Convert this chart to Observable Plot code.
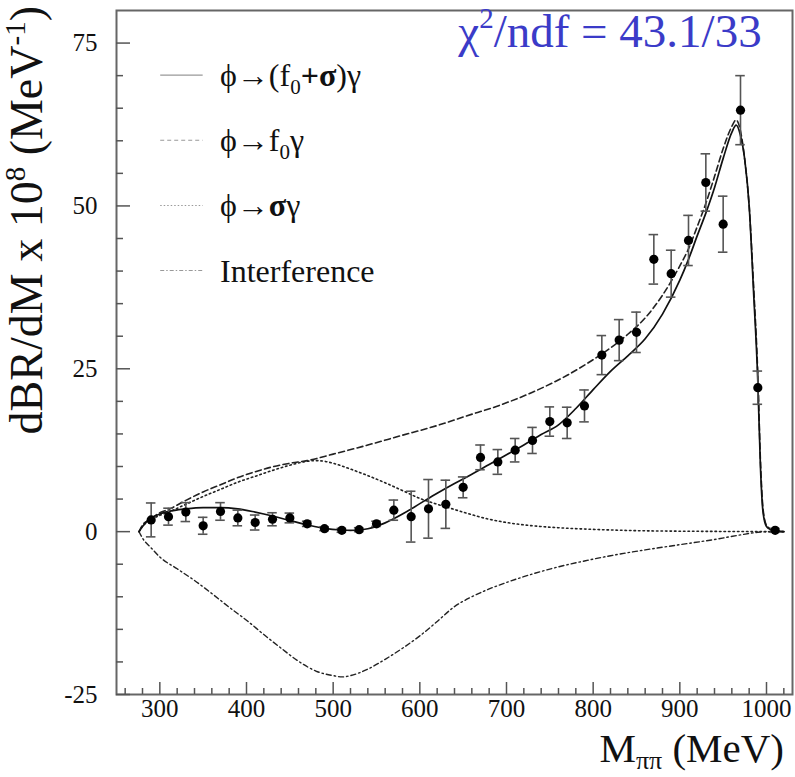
<!DOCTYPE html>
<html><head><meta charset="utf-8">
<script src="https://cdn.jsdelivr.net/npm/d3@7"></script>
<script src="https://cdn.jsdelivr.net/npm/@observablehq/plot@0.6"></script>
<style>body{margin:0;background:#fff;} svg{display:block}</style>
</head><body><div id="chart"></div>
<script>
// ---- measured spectrum (MeV, dBR/dM x 1e8) ----
const massBins = [290,310,330,350,370,390,410,430,450,470,490,510,530,550,570,590,610,630,650,670,690,710,730,750,770,790,810,830,850,870,890,910,930,950,970,990,1010];
const dBRdM    = [1.8,2.3,3.0,0.9,3.1,2.1,1.4,1.9,2.1,1.2,0.45,0.2,0.3,1.2,3.3,2.3,3.5,4.2,6.8,11.4,10.7,12.5,14.0,16.9,16.7,19.3,27.1,29.4,30.6,41.8,39.6,44.7,53.6,47.2,64.7,22.1,0.2];
const dBRdMErr = [2.6,1.3,1.45,1.3,1.35,1.2,1.15,1.0,0.75,0.4,0.3,0.3,0.3,0.4,1.55,3.9,4.5,3.7,1.6,1.9,1.9,1.8,2.0,2.25,2.4,2.45,3.0,3.15,3.1,3.8,3.6,3.85,4.4,4.3,5.3,2.55,0.3];

// ---- fit curves ----
const totalMass = [276,280,290,300,310,330,350,370,390,410,430,450,470,490,510,520,530,540,560,580,600,620,640,660,680,700,720,740,760,780,800,820,840,860,880,900,910,920,930,940,950,960,965,970,975,980,985,990,993,996,1000,1005,1010,1020];
const totalFit  = [0,0.8,2.1,2.7,3.1,3.5,3.7,3.7,3.5,3.0,2.4,1.7,1.05,0.5,0.25,0.2,0.25,0.45,1.35,2.7,4.3,5.9,7.4,8.8,10.3,11.8,13.3,14.9,16.4,18.9,21.8,24.6,27.0,29.6,33.4,38.6,41.8,45.4,48.9,52.8,57.3,61.3,62.4,60.8,57,50,37,23,10,3,0.8,0.3,0.1,0];

const f0Mass = [276,280,290,300,310,330,350,370,390,410,430,450,470,500,540,580,610,630,650,690,730,770,800,820,840,860,880,900,910,920,930,940,950,960,965,970,975,980,985,990,993,996,1000,1010,1020];
const f0Fit  = [0,1.0,2.0,2.9,3.4,4.8,6.1,7.2,8.3,9.2,9.95,10.5,10.9,11.9,13.3,14.8,15.9,16.7,17.6,19.3,21.4,24.0,26.4,28.2,30.3,32.8,36.3,40.8,43.4,46.8,50.4,54.5,58.8,62.2,63.2,61.5,57,50,38,24,11,3.5,1,0.1,0];

const sigmaMass = [276,280,290,300,310,330,350,370,390,410,430,450,470,480,490,500,520,540,560,580,600,620,640,660,680,700,730,760,800,850,900,950,1000,1020];
const sigmaFit  = [0,0.8,1.8,2.5,3.0,4.2,5.4,6.5,7.6,8.5,9.4,10.2,10.8,10.9,10.8,10.5,9.6,8.6,7.5,6.3,5.1,4.2,3.4,2.6,1.9,1.4,0.9,0.6,0.35,0.15,0.07,0.03,0.01,0];

const interfMass = [276,280,290,300,320,340,360,380,400,420,440,460,480,500,510,520,540,560,580,600,620,640,660,680,700,730,760,790,820,860,900,940,970,990,1010,1020];
const interfFit  = [0,-1.0,-2.5,-3.9,-5.7,-7.5,-9.5,-11.6,-13.6,-15.8,-17.9,-19.9,-21.4,-22.1,-22.3,-22.1,-21.1,-19.6,-17.9,-16.0,-13.8,-11.5,-10.0,-8.8,-7.8,-6.5,-5.4,-4.5,-3.7,-2.8,-2.0,-1.2,-0.5,-0.1,0,0];

// ---- ticks ----
const xMajorTicks = [300,400,500,600,700,800,900,1000];
const xMinorTicks = d3.range(260, 1030, 20).filter(v => v % 100 !== 0);
const yMajorTicks = [-25,0,25,50,75];
const yMinorTicks = d3.range(-20, 80, 5).filter(v => v % 25 !== 0);

const pts = massBins.map((m, i) => ({m, v: dBRdM[i], e: dBRdMErr[i]}));
const curve = (ms, vs) => ms.map((m, i) => ({m, v: vs[i]}));

const W = 795, H = 777, mL = 116, mR = 3, mT = 10, mB = 83;
const frameW = W - mL - mR, frameH = H - mT - mB;
const ink = "#111";
const serif = "'Liberation Serif', 'Times New Roman', serif";
const axisOpts = {label: null, stroke: "#555", strokeWidth: 1.5, fontFamily: serif, tickFormat: d => String(d)};
const chart = Plot.plot({
  width: W, height: H,
  marginLeft: mL, marginRight: mR, marginTop: mT, marginBottom: mB,
  x: {domain: [250, 1030], axis: null},
  y: {domain: [-25, 80], axis: null},
  style: {fontFamily: serif, fontSize: "25px", color: ink, background: "white", overflow: "visible"},
  marks: [
    Plot.line(curve(interfMass, interfFit), {x: "m", y: "v", stroke: "#222", strokeWidth: 1.4, strokeDasharray: "5,3,1.5,3", curve: "monotone-x"}),
    Plot.line(curve(sigmaMass, sigmaFit), {x: "m", y: "v", stroke: "#222", strokeWidth: 1.6, strokeDasharray: "1.5,3", curve: "monotone-x"}),
    Plot.line(curve(f0Mass, f0Fit), {x: "m", y: "v", stroke: "#222", strokeWidth: 1.6, strokeDasharray: "6,3.5", curve: "monotone-x"}),
    Plot.line(curve(totalMass, totalFit), {x: "m", y: "v", stroke: "#111", strokeWidth: 1.7, curve: "monotone-x"}),
    Plot.ruleX(pts, {x: "m", y1: d => d.v - d.e, y2: d => d.v + d.e, stroke: "#555", strokeWidth: 1.6}),
    Plot.ruleY(pts, {y: d => d.v + d.e, x1: d => d.m - 5.5, x2: d => d.m + 5.5, stroke: "#555", strokeWidth: 1.6}),
    Plot.ruleY(pts, {y: d => d.v - d.e, x1: d => d.m - 5.5, x2: d => d.m + 5.5, stroke: "#555", strokeWidth: 1.6}),
    Plot.dot(pts, {x: "m", y: "v", r: 4.6, fill: "#000"}),
    Plot.frame({stroke: "#666", strokeWidth: 2}),
    // minor ticks: short inward rules from the bottom and left edges
    Plot.ruleX(xMinorTicks, {x: d => d, insetTop: frameH - 6, stroke: "#555", strokeWidth: 1.5}),
    Plot.ruleY(yMinorTicks, {y: d => d, insetRight: frameW - 7, stroke: "#555", strokeWidth: 1.5}),
    Plot.axisX(xMajorTicks, {...axisOpts, anchor: "bottom", tickSize: -12, tickPadding: 17, fontSize: 25}),
    Plot.axisY(yMajorTicks, {...axisOpts, anchor: "left", tickSize: -14, tickPadding: 33, fontSize: 25})
  ]
});
document.getElementById("chart").append(chart);

// ---- text with sub/superscripts, legend ----
const sx = chart.scale("x"), sy = chart.scale("y");
const svg = d3.select(chart);
const txt = () => svg.append("text").attr("font-family", serif).attr("fill", ink).attr("text-anchor", "start");

// y-axis title
const yt = txt().attr("transform", "translate(42,6) rotate(-90)").attr("text-anchor", "end").attr("font-size", 46);
yt.append("tspan").text("dBR/dM x 10");
yt.append("tspan").attr("dy", -17).attr("font-size", 29).text("8");
yt.append("tspan").attr("dy", 17).text(" (MeV");
yt.append("tspan").attr("dy", -17).attr("font-size", 29).text("-1");
yt.append("tspan").attr("dy", 17).text(")");

// x-axis title
const xt = txt().attr("x", 784).attr("y", 762).attr("text-anchor", "end").attr("font-size", 41);
xt.append("tspan").text("M");
xt.append("tspan").attr("dy", 7).attr("font-size", 26).text("ππ");
xt.append("tspan").attr("dy", -7).text(" (MeV)");

// chi2 annotation
const ct = txt().attr("x", sx.apply(995)).attr("y", sy.apply(74.3))
  .attr("text-anchor", "end").attr("font-size", 47).attr("fill", "#3b3bc8");
ct.append("tspan").text("χ");
ct.append("tspan").attr("dy", -19).attr("font-size", 29).text("2");
ct.append("tspan").attr("dy", 19).text("/ndf = 43.1/33");

// legend
const legendRows = [
  {y: 70, dash: null, parts: [["ϕ→(f"], ["0", "sub"], ["+σ", "bold"], [")γ"]]},
  {y: 60, dash: "4,3", parts: [["ϕ→f"], ["0", "sub"], ["γ"]]},
  {y: 50, dash: "1.5,2", parts: [["ϕ→"], ["σ", "bold"], ["γ"]]},
  {y: 40, dash: "4,2,1.5,2", parts: [["Interference"]]}
];
for (const row of legendRows) {
  const yy = sy.apply(row.y);
  const ln = svg.append("line").attr("x1", sx.apply(301)).attr("x2", sx.apply(350))
    .attr("y1", yy).attr("y2", yy).attr("stroke", "#999").attr("stroke-width", 1.1);
  if (row.dash) ln.attr("stroke-dasharray", row.dash);
  const t = txt().attr("x", sx.apply(370)).attr("y", yy + 11).attr("font-size", 32);
  let shift = 0;
  for (const [s, kind] of row.parts) {
    const sp = t.append("tspan").text(s);
    if (kind === "sub") { sp.attr("dy", 8).attr("font-size", 21); shift = 8; }
    else { if (shift) { sp.attr("dy", -shift); shift = 0; } if (kind === "bold") sp.attr("font-weight", "bold"); }
  }
}
</script>
</body></html>
